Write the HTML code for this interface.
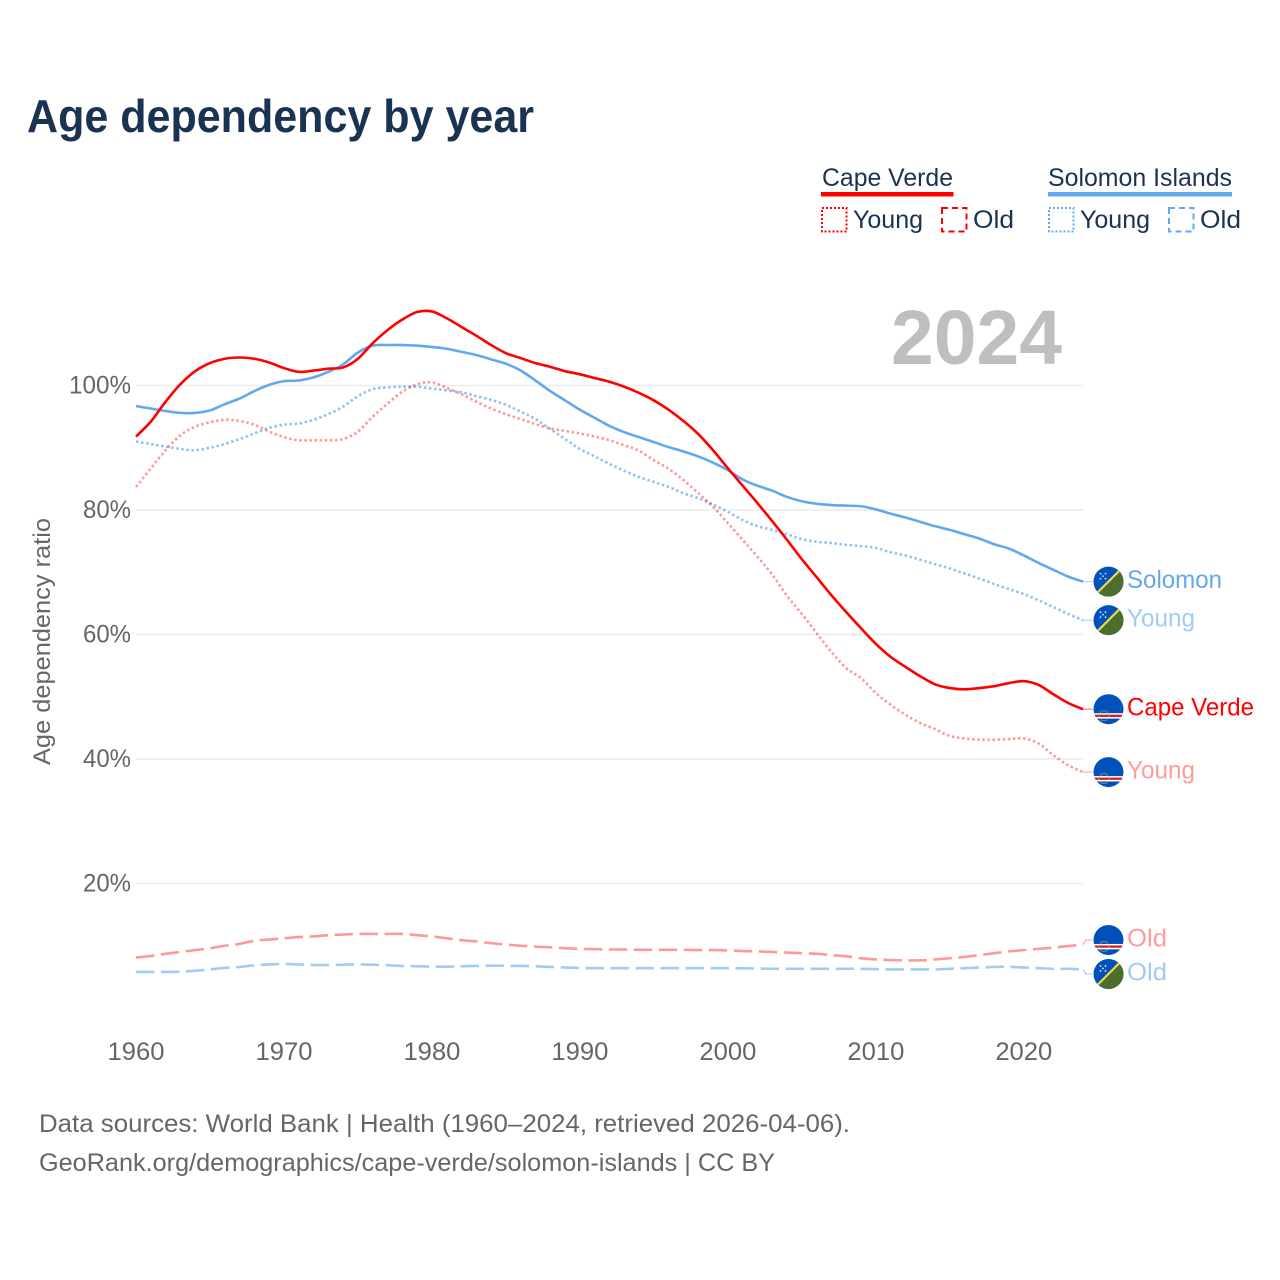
<!DOCTYPE html>
<html lang="en">
<head>
<meta charset="utf-8">
<title>Age dependency by year</title>
<style>
html,body{margin:0;padding:0;background:#fff;}
svg{display:block;font-family:"Liberation Sans",sans-serif;}
</style>
</head>
<body>
<svg id="chart" xmlns="http://www.w3.org/2000/svg" width="1280" height="1280" viewBox="0 0 1280 1280">
  <defs>
    <clipPath id="flag-clip"><circle cx="0" cy="0" r="15"></circle></clipPath>
  </defs>
  <rect x="0" y="0" width="1280" height="1280" fill="#ffffff"></rect>
  <text x="27" y="132" font-size="46" font-weight="700" fill="#1a3352" textLength="507" lengthAdjust="spacingAndGlyphs">Age dependency by year</text>

  <g>
    <text x="822" y="186" font-size="25" fill="#1a3352" textLength="131" lengthAdjust="spacingAndGlyphs">Cape Verde</text>
    <rect x="821" y="192" width="132.5" height="4.5" fill="#ff0000"></rect>
    <rect x="822" y="208" width="24.5" height="23.5" fill="none" stroke="#ff0000" stroke-width="2" stroke-dasharray="2 2"></rect>
    <text x="853" y="228" font-size="25" fill="#1a3352" textLength="70" lengthAdjust="spacingAndGlyphs">Young</text>
    <rect x="942" y="208" width="24.5" height="23.5" fill="none" stroke="#ff0000" stroke-width="2" stroke-dasharray="6 4"></rect>
    <text x="973" y="228" font-size="25" fill="#1a3352" textLength="41" lengthAdjust="spacingAndGlyphs">Old</text>
    <text x="1048" y="186" font-size="25" fill="#1a3352" textLength="184" lengthAdjust="spacingAndGlyphs">Solomon Islands</text>
    <rect x="1048" y="192" width="184" height="4.5" fill="#62a8ee"></rect>
    <rect x="1049" y="208" width="24.5" height="23.5" fill="none" stroke="#62a8ee" stroke-width="2" stroke-dasharray="2 2"></rect>
    <text x="1080" y="228" font-size="25" fill="#1a3352" textLength="70" lengthAdjust="spacingAndGlyphs">Young</text>
    <rect x="1169" y="208" width="24.5" height="23.5" fill="none" stroke="#62a8ee" stroke-width="2" stroke-dasharray="6 4"></rect>
    <text x="1200" y="228" font-size="25" fill="#1a3352" textLength="41" lengthAdjust="spacingAndGlyphs">Old</text>
  </g>

  <g id="grid"></g>
  <text x="891" y="364" font-size="77" font-weight="700" fill="#bfbfbf" textLength="171" lengthAdjust="spacingAndGlyphs">2024</text>
  <g id="y-axis"></g>
  <g id="x-axis"></g>
  <text transform="translate(50,765) rotate(-90)" x="0" y="0" font-size="24" fill="#666666" textLength="247" lengthAdjust="spacingAndGlyphs">Age dependency ratio</text>
  <g id="series"></g>
  <g id="end-labels"></g>

  <text x="39" y="1132" font-size="25" fill="#666666" textLength="811" lengthAdjust="spacingAndGlyphs">Data sources: World Bank | Health (1960–2024, retrieved 2026-04-06).</text>
  <text x="39" y="1171" font-size="25" fill="#666666" textLength="736" lengthAdjust="spacingAndGlyphs">GeoRank.org/demographics/cape-verde/solomon-islands | CC BY</text>
</svg>
<script>
const firstYear = 1960;
const yTicks = [20, 40, 60, 80, 100];
const xTicks = [1960, 1970, 1980, 1990, 2000, 2010, 2020];
const capeTotal = [
  91.8,94.2,97.4,100.2,102.3,103.6,104.3,104.5,104.3,103.7,
  102.8,102.2,102.4,102.7,102.9,104.3,106.8,108.9,110.6,111.8,
  111.9,110.8,109.4,108.0,106.5,105.2,104.4,103.6,103.0,102.3,
  101.8,101.2,100.6,99.8,98.8,97.6,96.1,94.3,92.2,89.6,
  86.7,83.9,81.1,78.2,75.2,72.1,69.2,66.3,63.6,61.0,
  58.5,56.4,54.8,53.3,52.0,51.4,51.2,51.4,51.7,52.2,
  52.5,51.9,50.4,49.0,48.0];
const solomonTotal = [
  96.7,96.3,95.9,95.6,95.6,96.0,97.0,97.9,99.1,100.1,
  100.7,100.8,101.3,102.2,103.4,105.3,106.4,106.5,106.5,106.4,
  106.2,105.9,105.4,104.9,104.2,103.5,102.4,100.8,99.1,97.6,
  96.1,94.8,93.5,92.5,91.7,90.9,90.1,89.4,88.6,87.6,
  86.4,84.9,83.9,83.1,82.1,81.4,81.0,80.8,80.7,80.6,
  80.1,79.4,78.8,78.1,77.4,76.8,76.1,75.4,74.5,73.8,
  72.7,71.5,70.4,69.3,68.5];
const capeYoung = [
  83.7,86.7,89.6,92.0,93.4,94.1,94.5,94.3,93.7,92.6,
  91.7,91.2,91.2,91.2,91.4,92.6,95.0,97.1,99.0,100.2,
  100.5,99.6,98.6,97.4,96.3,95.4,94.6,93.8,93.1,92.7,
  92.3,91.8,91.2,90.4,89.5,88.0,86.6,84.8,82.7,80.5,
  77.9,75.2,72.5,69.6,66.2,63.3,60.2,57.2,54.6,53.0,
  50.6,48.7,47.1,45.8,44.8,43.7,43.3,43.1,43.1,43.2,
  43.3,42.5,40.6,39.0,37.9];
const solomonYoung = [
  91.0,90.6,90.2,89.8,89.6,90.0,90.6,91.4,92.3,93.2,
  93.7,93.9,94.5,95.4,96.6,98.3,99.4,99.7,99.8,99.8,
  99.5,99.2,98.9,98.3,97.7,96.9,95.8,94.6,93.0,91.4,
  89.8,88.6,87.4,86.3,85.3,84.5,83.7,82.7,81.9,80.9,
  79.7,78.4,77.4,76.8,76.1,75.3,74.9,74.7,74.4,74.2,
  73.9,73.2,72.7,72.0,71.3,70.6,69.8,69.0,68.1,67.3,
  66.5,65.5,64.4,63.3,62.3];
const capeOld = [
  8.1,8.35,8.7,9.0,9.3,9.6,10.0,10.3,10.8,11.0,
  11.2,11.4,11.5,11.7,11.8,11.9,11.9,11.9,11.9,11.7,
  11.5,11.2,10.9,10.7,10.4,10.2,10.0,9.85,9.75,9.6,
  9.5,9.45,9.4,9.4,9.35,9.35,9.35,9.35,9.3,9.3,
  9.25,9.15,9.1,9.0,8.9,8.8,8.7,8.5,8.3,8.0,
  7.8,7.7,7.65,7.65,7.8,8.0,8.2,8.5,8.8,9.1,
  9.3,9.5,9.7,9.95,10.2];
const solomonOld = [
  5.8,5.8,5.8,5.83,6.0,6.2,6.43,6.6,6.85,7.0,
  7.07,7.0,6.9,6.9,6.96,7.0,6.96,6.87,6.75,6.7,
  6.64,6.64,6.7,6.75,6.8,6.8,6.75,6.7,6.6,6.5,
  6.43,6.4,6.4,6.4,6.4,6.4,6.4,6.4,6.4,6.4,
  6.4,6.38,6.35,6.3,6.3,6.3,6.3,6.3,6.3,6.3,
  6.25,6.2,6.2,6.2,6.2,6.3,6.4,6.5,6.6,6.6,
  6.5,6.4,6.3,6.3,6.2];

const SVGNS = 'http://www.w3.org/2000/svg';
function xScale(year) { return 136 + (year - 1960) * (1083 - 136) / 64; }
function yScale(v) { return 1008 - v * 6.225; }
function make(tag, attrs, parent) {
  const el = document.createElementNS(SVGNS, tag);
  for (const k in attrs) el.setAttribute(k, attrs[k]);
  parent.appendChild(el);
  return el;
}
/* smooth cubic path through the yearly points */
function smoothPath(values) {
  const pts = values.map(function (v, i) { return [xScale(firstYear + i), yScale(v)]; });
  let d = 'M' + pts[0][0].toFixed(2) + ' ' + pts[0][1].toFixed(2);
  for (let i = 0; i < pts.length - 1; i++) {
    const p0 = pts[Math.max(i - 1, 0)];
    const p1 = pts[i];
    const p2 = pts[i + 1];
    const p3 = pts[Math.min(i + 2, pts.length - 1)];
    const c1x = p1[0] + (p2[0] - p0[0]) / 6;
    const c1y = p1[1] + (p2[1] - p0[1]) / 6;
    const c2x = p2[0] - (p3[0] - p1[0]) / 6;
    const c2y = p2[1] - (p3[1] - p1[1]) / 6;
    d += ' C' + c1x.toFixed(2) + ' ' + c1y.toFixed(2) + ' ' + c2x.toFixed(2) + ' ' + c2y.toFixed(2) + ' ' + p2[0].toFixed(2) + ' ' + p2[1].toFixed(2);
  }
  return d;
}

const gridGroup = document.getElementById('grid');
const yAxisGroup = document.getElementById('y-axis');
const xAxisGroup = document.getElementById('x-axis');
const seriesGroup = document.getElementById('series');
const labelsGroup = document.getElementById('end-labels');

yTicks.forEach(function (t) {
  const line = make('line', {x1: 136, x2: 1083, y1: yScale(t), y2: yScale(t), stroke: '#ececec', 'stroke-width': 1.4}, gridGroup);
  
  
  const label = String(t) + '%';
  const txt = make('text', {x: 131, y: yScale(t) + 8, 'text-anchor': 'end', 'font-size': 25, fill: '#666666', textLength: 14 * label.length + 6, lengthAdjust: 'spacingAndGlyphs'}, yAxisGroup);
  
  
  txt.textContent = label;
});

xTicks.forEach(function (t) {
  const txt = make('text', {x: xScale(t), y: 1060, 'text-anchor': 'middle', 'font-size': 25, fill: '#666666', textLength: 57, lengthAdjust: 'spacingAndGlyphs'}, xAxisGroup);
  
  
  txt.textContent = String(t);
});

const seriesList = [
  {key: 'solomon-total', values: solomonTotal, color: '#62a8ee', width: 2.6, dash: '', opacity: 1, label: 'Solomon', labelWidth: 95, labelColor: '#62a8ee', flag: 'solomon'},
  {key: 'solomon-young', values: solomonYoung, color: '#62a8ee', width: 2.6, dash: '2.5 2.6', opacity: 0.7, label: 'Young', labelWidth: 68, labelColor: '#a1caf5', flag: 'solomon'},
  {key: 'solomon-old', values: solomonOld, color: '#62a8ee', width: 2.6, dash: '18.5 6.5', opacity: 0.6, label: 'Old', labelWidth: 40, labelColor: '#a1caf5', flag: 'solomon'},
  {key: 'cape-total', values: capeTotal, color: '#ff0000', width: 2.6, dash: '', opacity: 1, label: 'Cape Verde', labelWidth: 127, labelColor: '#ff0000', flag: 'cape'},
  {key: 'cape-young', values: capeYoung, color: '#ff0000', width: 2.6, dash: '2.5 2.6', opacity: 0.4, label: 'Young', labelWidth: 68, labelColor: '#ff9c9c', flag: 'cape'},
  {key: 'cape-old', values: capeOld, color: '#ff0000', width: 2.6, dash: '18.5 6.5', opacity: 0.4, label: 'Old', labelWidth: 40, labelColor: '#ff9c9c', flag: 'cape'}
];

/* spread the end labels so that neighbouring flags do not collide */
const placed = seriesList.map(function (s) {
  return {s: s, end: yScale(s.values[s.values.length - 1]), y: yScale(s.values[s.values.length - 1])};
}).sort(function (a, b) { return a.end - b.end; });
for (let i = 1; i < placed.length; i++) {
  const gap = placed[i].y - placed[i - 1].y;
  if (gap < 34) {
    const mid = (placed[i].y + placed[i - 1].y) / 2;
    placed[i - 1].y = mid - 17;
    placed[i].y = mid + 17;
  }
}

function drawFlag(kind, cx, cy, parent, name) {
  const g = make('g', {transform: 'translate(' + cx + ',' + cy + ')'}, parent);
  
  
  make('circle', {cx: 0, cy: 0, r: 16, fill: '#ffffff'}, g);
  const c = make('g', {'clip-path': 'url(#flag-clip)'}, g);
  make('rect', {x: -16, y: -16, width: 32, height: 32, fill: '#0051ba'}, c);
  if (kind === 'solomon') {
    make('polygon', {points: '18,-16 18,18 -16,18', fill: '#4c6f2b'}, c);
    make('line', {x1: -14, y1: 14, x2: 14, y2: -14, stroke: '#f4d63e', 'stroke-width': 2.2}, c);
    const dots = [[-8, -8], [-3, -8], [-8, -3], [-3, -3], [-5.5, -5.5]];
    dots.forEach(function (d) { make('circle', {cx: d[0], cy: d[1], r: 0.9, fill: '#dfe9f7'}, c); });
  } else {
    make('rect', {x: -16, y: 4, width: 32, height: 5.4, fill: '#ffffff'}, c);
    make('rect', {x: -16, y: 5.5, width: 32, height: 2.3, fill: '#cf2028'}, c);
    make('circle', {cx: -4.5, cy: 6.5, r: 5, fill: 'none', stroke: '#e8d25a', 'stroke-width': 0.9, 'stroke-dasharray': '1.2 1.2'}, c);
  }
}

seriesList.forEach(function (s) {
  const attrs = {d: smoothPath(s.values), fill: 'none', stroke: s.color, 'stroke-width': s.width, 'stroke-opacity': s.opacity, 'stroke-linejoin': 'round'};
  if (s.dash) attrs['stroke-dasharray'] = s.dash;
  const path = make('path', attrs, seriesGroup);
  
  
});

placed.forEach(function (p) {
  const s = p.s;
  const ex = xScale(firstYear + s.values.length - 1);
  const conn = make('polyline', {points: ex + ',' + p.end + ' ' + (ex + 3) + ',' + p.y + ' ' + (ex + 10) + ',' + p.y, fill: 'none', stroke: s.color, 'stroke-width': 1, 'stroke-opacity': Math.min(s.opacity, 0.6)}, labelsGroup);
  
  
  drawFlag(s.flag, 1108.5, p.y, labelsGroup, 'flag-' + s.key);
  const txt = make('text', {x: 1127, y: p.y + 6.5, 'font-size': 25, fill: s.labelColor, textLength: s.labelWidth, lengthAdjust: 'spacingAndGlyphs'}, labelsGroup);
  
  
  txt.textContent = s.label;
});
</script>
</body>
</html>
